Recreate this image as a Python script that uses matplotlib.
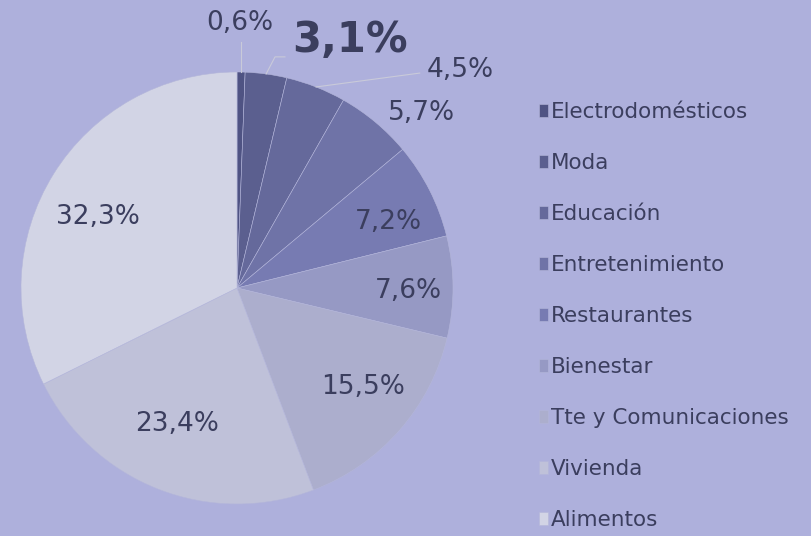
import matplotlib.pyplot as plt
import numpy as np

categorias = ['Electrodomésticos', 'Moda', 'Educación', 'Entretenimiento', 'Restaurantes',
              'Bienestar', 'Tte y Comunicaciones', 'Vivienda', 'Alimentos']
valores = [0.6, 3.1, 4.5, 5.7, 7.2, 7.6, 15.5, 23.4, 32.3]
etiquetas = ['0,6%', '3,1%', '4,5%', '5,7%', '7,2%', '7,6%', '15,5%', '23,4%', '32,3%']

colores = ['#4f5383', '#5b5f8f', '#65699b', '#6f73a7', '#777bb2',
           '#9699c4', '#acaecd', '#bfc1d9', '#d2d4e5']
fondo = '#aeb0dc'
texto = '#3b3e5e'

# posiciones de etiquetas (radio del pastel = 1)
pos_etq = [(0.014, 1.225), (0.523, 1.148), (1.032, 1.009), (0.852, 0.810), (0.699, 0.306),
           (0.792, -0.014), (0.583, -0.458), (-0.278, -0.630), (-0.644, 0.329)]

plt.rcParams['font.family'] = ['DejaVu Sans']

fig = plt.figure(figsize=(8.11, 5.36), dpi=100)
fig.patch.set_facecolor(fondo)
lim = 230 / 216
ax = fig.add_axes([(237 - 230) / 811, (536 - 288 - 230) / 536, 460 / 811, 460 / 536])
ax.set_facecolor(fondo)
wedges, _ = ax.pie(valores, colors=colores, startangle=90, counterclock=False, radius=1,
                   wedgeprops=dict(edgecolor='#b4b6da', linewidth=0.4))
ax.set_xlim(-lim, lim)
ax.set_ylim(-lim, lim)
ax.set_aspect('equal')
ax.axis('off')

total = sum(valores)
acum = np.cumsum([0] + valores[:-1])
for i, txt in enumerate(etiquetas):
    x, y = pos_etq[i]
    if i == 1:
        ax.text(x, y, txt, ha='center', va='center', fontsize=30, fontweight='bold', color=texto)
    else:
        ax.text(x, y, txt, ha='center', va='center', fontsize=19, color=texto)

# lineas guia para las etiquetas pequeñas
def punto_borde(i):
    ang = np.deg2rad(90 - 360 * (acum[i] + valores[i] / 2) / total)
    return np.cos(ang), np.sin(ang)

guia = '#c9cad9'
x0, y0 = punto_borde(0)
ax.plot([x0, x0], [y0, 1.14], color=guia, lw=0.8, clip_on=False)
x1, y1 = punto_borde(1)
ax.plot([x1, 0.176, 0.222], [y1, 1.07, 1.07], color=guia, lw=0.8, clip_on=False)
x2, y2 = punto_borde(2)
ax.plot([x2, 0.846], [y2, 0.995], color=guia, lw=0.8, clip_on=False)

leg = fig.legend(wedges, categorias, loc='upper left', bbox_to_anchor=(539 / 811, 1 - 102 / 536),
                 frameon=False, fontsize=15.5, labelcolor=texto, handlelength=0.4, handleheight=0.6,
                 handletextpad=0.15, labelspacing=1.44, borderpad=0, borderaxespad=0)

fig.savefig('out.png', dpi=100, facecolor=fondo)
